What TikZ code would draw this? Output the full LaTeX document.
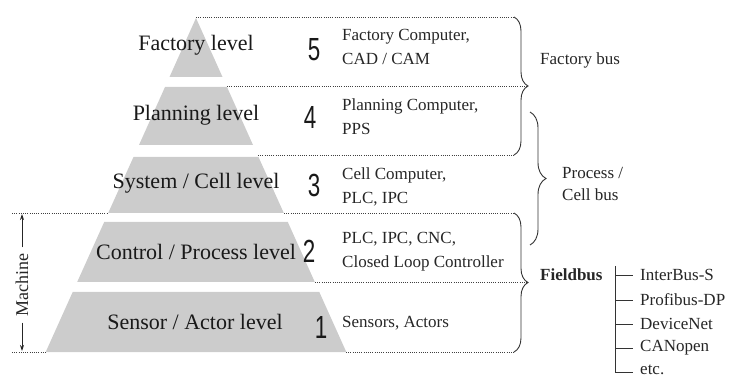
\documentclass[tikz,border=0pt]{standalone}
\usepackage{fontspec}
\setmainfont{Liberation Serif}
\newfontfamily\digitfont{Liberation Sans}
\usetikzlibrary{decorations.pathreplacing,arrows.meta,calc}
\begin{document}
\begin{tikzpicture}[x=1pt,y=-1pt,
  band/.style={fill=black!20, draw=none},
  dotline/.style={draw=black!75, line width=0.9pt, dash pattern=on 0.9pt off 1.3pt},
  lvl/.style={font=\fontsize{22}{26}\selectfont, inner sep=0pt, text=black!90},
  num/.style={font=\fontsize{32}{34}\digitfont, xscale=0.7, inner sep=0pt, text=black!90},
  desc/.style={font=\fontsize{17}{24}\selectfont, align=left, anchor=west, inner sep=0pt, text=black!85},
  bus/.style={font=\fontsize{17}{22}\selectfont, align=left, anchor=west, inner sep=0pt, text=black!85},
  bracebus/.style={decorate, decoration={brace, amplitude=14pt}, draw=black!80, line width=0.9pt},
  treeline/.style={draw=black!80, line width=0.9pt},
  arr/.style={draw=black!85, line width=0.9pt, -{Stealth[length=6pt,width=4pt]}},
]
\useasboundingbox (0,0) rectangle (734,382);

% pyramid bands
\fill[band] (196,18) -- (222.5,77) -- (169.5,77) -- cycle;
\fill[band] (165,87) -- (227,87) -- (253,145) -- (139,145) -- cycle;
\fill[band] (133.5,157) -- (258.5,157) -- (283.8,213) -- (108.2,213) -- cycle;
\fill[band] (104.2,222) -- (287.8,222) -- (314.8,282) -- (77.2,282) -- cycle;
\fill[band] (72.7,292) -- (319.3,292) -- (346.3,352) -- (45.7,352) -- cycle;

% coordinates for braces
\coordinate (fbT) at (514,17);
\coordinate (fbB) at (514,155);
\coordinate (fbC) at (528,86);
\coordinate (pcT) at (530,112);
\coordinate (pcB) at (530,245);
\coordinate (fdT) at (514,213);
\coordinate (fdB) at (514,352);
\coordinate (fdC) at (528,282.5);

% dotted level lines
\draw[dotline] (196,17) -- (fbT);
\draw[dotline] (227,86) -- (fbC);
\draw[dotline] (258,155) -- (fbB);
\draw[dotline] (12,213) -- (108,213);
\draw[dotline] (284,213) -- (fdT);
\draw[dotline] (315,282.5) -- (fdC);
\draw[dotline] (12,352) -- (46,352);
\draw[dotline] (346,352) -- (fdB);

% braces
\draw[bracebus] (fbT) -- (fbB);
\draw[bracebus, decoration={brace, amplitude=16pt}] (pcT) -- (pcB);
\draw[bracebus] (fdT) -- (fdB);

% level labels
\node[lvl] (l5) at (196,45) {Factory level};
\node[lvl] (l4) at (196,115) {Planning level};
\node[lvl] (l3) at (196,183) {System / Cell level};
\node[lvl] (l2) at (196,252) {Control / Process level};
\node[lvl] (l1) at (195,322) {Sensor / Actor level};

% numbers
\node[num] (n5) at (314,50) {5};
\node[num] (n4) at (310,117) {4};
\node[num] (n3) at (314,185) {3};
\node[num] (n2) at (309,251) {2};
\node[num] (n1) at (321,327) {1};

% descriptions
\node[desc] (d5) at (342,47) {Factory Computer,\\CAD / CAM};
\node[desc] (d4) at (342,117) {Planning Computer,\\PPS};
\node[desc] (d3) at (342,187) {Cell Computer,\\PLC, IPC};
\node[desc] (d2) at (342,252) {PLC, IPC, CNC,\\Closed Loop Controller};
\node[desc] (d1) at (342,323) {Sensors, Actors};

% bus labels
\node[bus] (fbus) at (540,60) {Factory bus};
\node[bus] (pbus) at (562,184) {Process /\\Cell bus};
\node[bus, font=\fontsize{17}{22}\selectfont\bfseries] (fdbus) at (540,275) {Fieldbus};

% fieldbus tree
\coordinate (trunk) at (615,266);
\coordinate (trunkend) at (615,372);
\node[bus] (t1) at (640,275) {InterBus-S};
\node[bus] (t2) at (640,300) {Profibus-DP};
\node[bus] (t3) at (640,324) {DeviceNet};
\node[bus] (t4) at (640,348) {CANopen};
\node[bus] (t5) at (640,370) {etc.};
\draw[treeline] (trunk) -- (trunkend);
\foreach \t in {t1,t2,t3,t4}
  \draw[treeline] (\t.west -| trunk) -- ([xshift=-7pt]\t.west);
\draw[treeline] (trunkend) -- ([xshift=-7pt]t5.west |- trunkend);

% machine
\node[rotate=90, font=\fontsize{18}{20}\selectfont, inner sep=0pt, text=black!85] (mach) at (22,285) {Machine};
\coordinate (mtop) at (22,214);
\coordinate (mbot) at (22,351);
\draw[arr] ($(mach.east)+(0,-6)$) -- (mtop);
\draw[arr] ($(mach.west)+(0,6)$) -- (mbot);
\end{tikzpicture}
\end{document}
